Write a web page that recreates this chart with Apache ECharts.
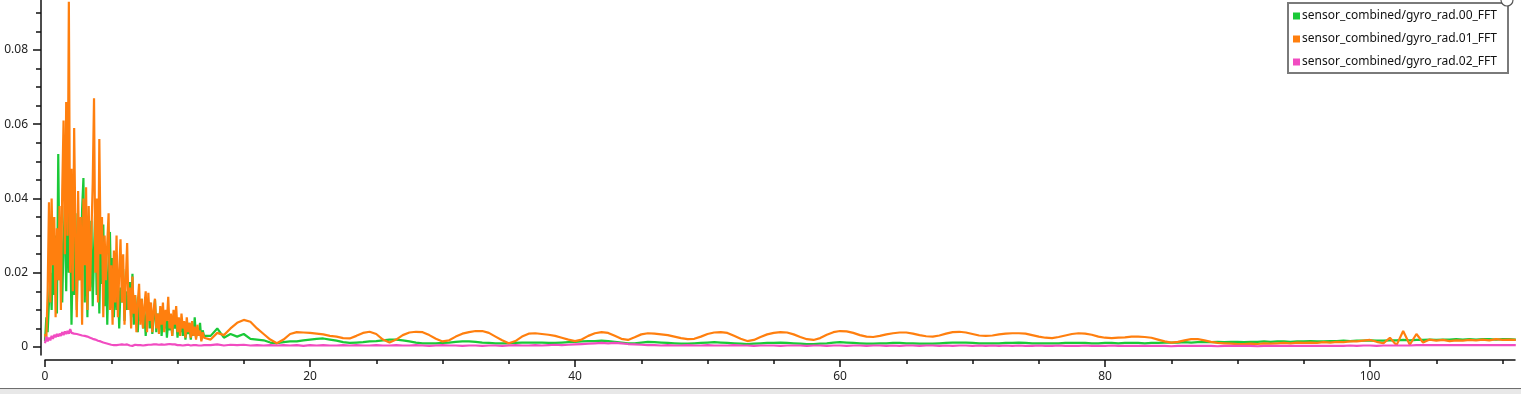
<!DOCTYPE html>
<html>
<head>
<meta charset="utf-8">
<script src="https://cdn.jsdelivr.net/npm/echarts@6/dist/echarts.min.js"></script>
<style>
html,body{margin:0;padding:0;background:#fff;}
#chart{width:1521px;height:394px;}
</style>
</head>
<body>
<div id="chart"></div>
<script>
// Series names (legend)
const seriesNames = [
  'sensor_combined/gyro_rad.00_FFT',
  'sensor_combined/gyro_rad.01_FFT',
  'sensor_combined/gyro_rad.02_FFT'
];
// Frequency bins: dense part 0..12 Hz step 0.1, sparse part 12.5..111 Hz step 0.5
const denseStart = 0, denseStep = 0.1;
const sparseStart = 12.5, sparseStep = 0.5;

// Values in units of 1e-3
const gyro00Dense = [
  1.5, 8, 4, 12, 20, 10, 24, 14, 30, 9,
  52, 18, 35, 12, 28, 38, 15, 40, 20, 33,
  6, 25, 14, 36, 10, 30, 18, 22, 37, 45.5,
  12, 32, 8, 28, 16, 34, 11, 26, 38, 14,
  30, 9, 27, 17, 33, 11, 24, 6, 22, 31,
  13, 24, 8, 20, 10, 18, 5, 16, 12, 21,
  7, 15, 10, 14, 17.5, 8, 19.7, 6, 14, 9,
  4, 11, 7, 13, 5, 10, 3, 9, 12, 5,
  10, 3.5, 8, 12.7, 4, 9, 6, 10, 3, 8,
  5, 9, 2.5, 7, 4.5, 8.5, 3, 7, 5, 8,
  2.5, 6, 4, 7.5, 3, 6, 2, 5.5, 3.5, 6.5,
  2, 5, 3, 8, 2.5, 5, 3, 6.5, 2, 4.5,
  3
];
const gyro01Dense = [
  3.5, 2, 15, 39, 12, 40, 22, 35, 8, 32,
  18, 38, 10, 42, 61, 25, 66, 30, 93, 20,
  48, 15, 59, 30, 8, 42, 18, 35, 6, 40,
  22, 43, 10, 38, 15, 30, 44, 67, 20, 40,
  12, 56, 25, 35, 8, 30, 18, 28, 36, 10,
  22, 6, 26, 12, 30, 8, 20, 29, 12, 25,
  6, 18, 28, 10, 16, 5, 19, 9, 14, 4,
  12, 17, 6, 13, 5, 11, 15, 4, 14.6, 7,
  12, 4, 10, 13, 5, 9, 3.5, 11, 6, 12,
  4, 10, 7, 13.5, 5, 9, 3, 10, 6, 11,
  4, 8, 3, 9, 5, 7, 2.5, 8, 4, 6.5,
  2.5, 7, 3, 5.5, 2, 6, 3, 4.5, 1.5, 4,
  2.5
];
const gyro02Dense = [
  1.0, 2.8, 1.5, 2.5, 1.8, 3.0, 2.2, 3.3, 2.6, 3.5,
  2.8, 3.6, 3.0, 4.0, 3.2, 4.2, 3.5, 4.3, 3.6, 4.8,
  3.8, 4.2, 3.6, 4.0, 3.5, 3.8, 3.3, 3.6, 3.1, 3.4,
  3.0, 3.1, 2.8, 2.9, 2.5, 2.6, 2.2, 2.3, 2.0, 2.0,
  1.7, 1.8, 1.5, 1.5, 1.2, 1.3, 1.0, 1.1, 0.8, 0.9,
  0.6, 0.8, 0.5, 0.7, 0.5, 0.6, 0.6, 0.4, 0.7, 0.5,
  0.6, 0.4, 0.7, 0.5, 0.4, 0.6, 0.3, 0.5, 0.6, 0.4,
  0.5, 0.7, 0.5, 0.6, 0.4, 0.6, 0.5, 0.7, 0.6, 0.8,
  0.6, 0.8, 0.7, 0.9, 0.7, 0.8, 0.6, 0.9, 0.7, 0.8,
  0.6, 0.8, 0.7, 0.6, 0.8, 0.6, 0.7, 0.5, 0.7, 0.6,
  0.5, 0.7, 0.5, 0.6, 0.4, 0.6, 0.5, 0.4, 0.6, 0.5,
  0.4, 0.6, 0.5, 0.4, 0.5, 0.6, 0.4, 0.5, 0.4, 0.6,
  0.5
];

const gyro00Sparse = [
  3.0, 5.0, 2.5, 3.5, 2.8, 3.5, 2.2, 2.0, 1.8, 1.2,
  1.0, 1.3, 1.5, 1.5, 1.8, 2.0, 2.2, 2.3, 2.0, 1.7,
  1.3, 1.1, 1.2, 1.3, 1.5, 1.6, 1.8, 2.0, 2.0, 1.8,
  1.5, 1.2, 1.0, 1.0, 1.0, 1.1, 1.2, 1.4, 1.5, 1.5,
  1.4, 1.2, 1.1, 1.0, 1.0, 1.0, 1.1, 1.2, 1.2, 1.2,
  1.2, 1.1, 1.1, 1.2, 1.3, 1.4, 1.5, 1.6, 1.6, 1.7,
  1.6, 1.4, 1.2, 1.0, 1.0, 1.2, 1.4, 1.3, 1.2, 1.1,
  1.0, 0.9, 0.9, 1.0, 1.1, 1.2, 1.3, 1.2, 1.1, 1.0,
  0.9, 0.8, 0.9, 1.0, 1.1, 1.1, 1.2, 1.1, 1.0, 0.9,
  0.8, 0.8, 0.9, 1.0, 1.2, 1.3, 1.2, 1.1, 1.0, 0.9,
  0.9, 1.0, 1.0, 1.1, 1.1, 1.0, 1.0, 0.9, 0.9, 0.9,
  1.0, 1.1, 1.2, 1.2, 1.2, 1.1, 1.0, 1.0, 1.0, 1.0,
  1.1, 1.1, 1.2, 1.1, 1.0, 1.0, 1.0, 1.0, 1.0, 1.1,
  1.1, 1.1, 1.1, 1.0, 1.0, 1.1, 1.1, 1.0, 1.1, 1.1,
  1.1, 1.0, 1.1, 1.1, 1.2, 1.2, 1.2, 1.3, 1.2, 1.3,
  1.3, 1.3, 1.4, 1.3, 1.4, 1.4, 1.3, 1.4, 1.4, 1.5,
  1.4, 1.5, 1.5, 1.4, 1.5, 1.5, 1.6, 1.5, 1.5, 1.6,
  1.6, 1.7, 1.6, 1.7, 1.7, 1.8, 1.7, 1.7, 1.8, 1.8,
  1.9, 1.8, 1.9, 1.9, 2.0, 1.9, 2.0, 2.0, 2.1, 2.0,
  2.1, 2.0, 2.1, 2.1, 2.0, 2.1, 2.1, 2.0
];
const gyro01Sparse = [
  2.0, 3.8, 3.2, 5.0, 6.5, 7.3, 6.8, 5.0, 3.5, 2.0,
  1.0, 2.0, 3.5, 4.0, 3.9, 3.8, 3.6, 3.4, 3.0, 2.8,
  2.4, 2.3, 3.0, 3.8, 4.1, 3.5, 2.0, 1.2, 2.0, 3.2,
  3.9, 4.1, 4.0, 3.2, 2.2, 1.5, 1.8, 2.8, 3.6, 4.0,
  4.3, 4.3, 3.8, 2.8, 1.8, 1.0, 1.6, 2.8, 3.6, 3.7,
  3.5, 3.3, 3.0, 2.5, 2.0, 1.6, 2.0, 3.0, 3.7, 4.0,
  3.8, 3.0, 2.2, 1.9, 2.6, 3.4, 3.7, 3.6, 3.4, 3.2,
  2.8, 2.4, 2.1, 2.2, 2.8, 3.5, 3.9, 4.0, 3.8, 3.0,
  2.2, 1.6, 1.9, 2.7, 3.4, 3.8, 4.0, 3.9, 3.4, 2.7,
  2.1, 1.9, 2.4, 3.3, 4.0, 4.3, 4.2, 3.8, 3.2, 2.8,
  2.7, 3.0, 3.4, 3.7, 3.9, 3.9, 3.6, 3.2, 2.9, 2.8,
  3.1, 3.6, 4.0, 4.1, 3.9, 3.5, 3.1, 3.0, 3.1, 3.4,
  3.6, 3.7, 3.7, 3.6, 3.2, 2.8, 2.5, 2.4, 2.7, 3.1,
  3.5, 3.7, 3.6, 3.3, 2.8, 2.5, 2.4, 2.5, 2.6, 2.8,
  2.8, 2.7, 2.5, 2.0, 1.5, 1.2, 1.4, 1.8, 2.1, 2.1,
  1.8, 1.4, 1.1, 1.0, 0.9, 0.8, 0.8, 0.9, 0.8, 1.0,
  0.9, 1.0, 1.1, 1.0, 1.2, 1.1, 1.2, 1.1, 1.3, 1.2,
  1.4, 1.3, 1.5, 1.5, 1.7, 1.9, 1.4, 1.0, 2.5, 0.5,
  4.3, 0.6, 3.5, 1.2, 2.0, 1.7, 1.9, 1.6, 1.8, 1.7,
  1.9, 1.8, 2.0, 1.8, 2.1, 1.9, 2.0, 1.9
];
const gyro02Sparse = [
  0.5, 0.7, 0.4, 0.6, 0.5, 0.6, 0.4, 0.5, 0.4, 0.5,
  0.4, 0.5, 0.4, 0.5, 0.3, 0.5, 0.4, 0.5, 0.4, 0.4,
  0.5, 0.4, 0.5, 0.4, 0.4, 0.5, 0.4, 0.4, 0.5, 0.4,
  0.4, 0.5, 0.4, 0.3, 0.4, 0.5, 0.4, 0.4, 0.3, 0.4,
  0.4, 0.3, 0.4, 0.4, 0.3, 0.4, 0.5, 0.4, 0.4, 0.5,
  0.4, 0.5, 0.6, 0.5, 0.6, 0.7, 0.8, 0.9, 1.0, 1.1,
  1.0, 1.1, 1.0, 0.8, 0.7, 0.6, 0.5, 0.5, 0.4, 0.5,
  0.4, 0.4, 0.5, 0.4, 0.4, 0.5, 0.4, 0.4, 0.4, 0.5,
  0.4, 0.4, 0.3, 0.4, 0.4, 0.4, 0.3, 0.4, 0.4, 0.4,
  0.3, 0.4, 0.4, 0.3, 0.4, 0.4, 0.3, 0.4, 0.4, 0.3,
  0.4, 0.4, 0.3, 0.4, 0.3, 0.4, 0.4, 0.3, 0.4, 0.4,
  0.3, 0.4, 0.3, 0.4, 0.4, 0.3, 0.4, 0.3, 0.4, 0.3,
  0.4, 0.3, 0.4, 0.3, 0.3, 0.4, 0.3, 0.3, 0.4, 0.3,
  0.3, 0.3, 0.4, 0.3, 0.3, 0.3, 0.4, 0.3, 0.3, 0.3,
  0.3, 0.3, 0.3, 0.3, 0.3, 0.2, 0.3, 0.3, 0.3, 0.3,
  0.3, 0.3, 0.2, 0.3, 0.3, 0.3, 0.3, 0.3, 0.2, 0.3,
  0.3, 0.3, 0.3, 0.3, 0.3, 0.3, 0.3, 0.3, 0.3, 0.3,
  0.3, 0.3, 0.4, 0.3, 0.4, 0.4, 0.3, 0.4, 0.4, 0.4,
  0.4, 0.4, 0.5, 0.5, 0.5, 0.5, 0.5, 0.5, 0.5, 0.5,
  0.5, 0.5, 0.5, 0.5, 0.5, 0.5, 0.5, 0.5
];

// Axis ticks
const xLabels = [0, 20, 40, 60, 80, 100];
const xMinorTicks = [5, 10, 15, 25, 30, 35, 45, 50, 55, 65, 70, 75, 85, 90, 95, 105, 110];
const yLabels = [0, 0.02, 0.04, 0.06, 0.08];
const yMinorTicks = [0.005, 0.01, 0.015, 0.025, 0.03, 0.035, 0.045, 0.05, 0.055, 0.065, 0.07, 0.075, 0.085, 0.09];

const colors = ['#1ac938', '#ff7f0e', '#f14cc1'];

function build(dense, sparse) {
  const pts = [];
  dense.forEach((v, i) => pts.push([+(denseStart + i * denseStep).toFixed(3), v / 1000]));
  sparse.forEach((v, i) => pts.push([sparseStart + i * sparseStep, v / 1000]));
  return pts;
}
const seriesData = [
  build(gyro00Dense, gyro00Sparse),
  build(gyro01Dense, gyro01Sparse),
  build(gyro02Dense, gyro02Sparse)
];

const FONT = 'Noto Sans';
const axisColor = '#111';
const xMin = 0, xMax = 110.94;
const yMin = -0.002155, yMax = 0.093468;

const chart = echarts.init(document.getElementById('chart'), null, {renderer: 'canvas'});
chart.setOption({
  animation: false,
  backgroundColor: '#fff',
  color: colors,
  grid: {left: 45, top: 0, width: 1470, height: 355, containLabel: false},
  legend: {
    orient: 'vertical',
    left: 1288, top: 3,
    padding: [5, 11, 3, 5],
    itemGap: 7,
    itemWidth: 7, itemHeight: 7,
    icon: 'rect',
    backgroundColor: '#fff',
    borderColor: '#7a7a7a',
    borderWidth: 2,
    borderRadius: 0,
    textStyle: {fontFamily: FONT, fontSize: 12, color: '#111', lineHeight: 16, padding: [0, 0, 0, -3]},
    data: seriesNames
  },
  xAxis: [{
    type: 'value', min: xMin, max: xMax, position: 'bottom', offset: 5,
    axisLine: {show: true, onZero: false, lineStyle: {color: axisColor, width: 1.5}},
    axisTick: {show: true, customValues: xLabels, length: 7, lineStyle: {color: axisColor, width: 1.5}},
    axisLabel: {customValues: xLabels, margin: 11, fontFamily: FONT, fontSize: 12, color: '#222'},
    splitLine: {show: false}
  }, {
    type: 'value', min: xMin, max: xMax, position: 'bottom', offset: 5,
    axisLine: {show: false, onZero: false},
    axisTick: {show: true, customValues: xMinorTicks, length: 4, lineStyle: {color: axisColor, width: 1.5}},
    axisLabel: {show: false},
    splitLine: {show: false}
  }],
  yAxis: [{
    type: 'value', min: yMin, max: yMax, position: 'left', offset: 4,
    axisLine: {show: true, onZero: false, lineStyle: {color: axisColor, width: 1.5}},
    axisTick: {show: true, customValues: yLabels, length: 8, lineStyle: {color: axisColor, width: 1.5}},
    axisLabel: {customValues: yLabels, margin: 13, fontFamily: FONT, fontSize: 12, color: '#222',
      formatter: v => (Math.abs(v) < 1e-9 ? '0' : String(+v.toFixed(3)))},
    splitLine: {show: false}
  }, {
    type: 'value', min: yMin, max: yMax, position: 'left', offset: 4,
    axisLine: {show: false, onZero: false},
    axisTick: {show: true, customValues: yMinorTicks, length: 5, lineStyle: {color: axisColor, width: 1.5}},
    axisLabel: {show: false},
    splitLine: {show: false}
  }],
  series: seriesNames.map((name, i) => ({
    name: name,
    type: 'line',
    xAxisIndex: 0, yAxisIndex: 0,
    data: seriesData[i],
    showSymbol: false,
    symbol: 'none',
    clip: true,
    lineStyle: {color: colors[i], width: 2.2},
    itemStyle: {color: colors[i]},
    emphasis: {disabled: true}
  })),
  graphic: [
    {type: 'circle', shape: {cx: 1507, cy: 0, r: 6}, style: {fill: '#fff', stroke: '#555', lineWidth: 1.2}, z: 100},
    {type: 'rect', shape: {x: 0, y: 388, width: 1521, height: 1.3}, style: {fill: '#6e6e6e'}, z: 100},
    {type: 'rect', shape: {x: 0, y: 389.3, width: 1521, height: 5}, style: {fill: '#e8e8e8'}, z: 100}
  ]
});
</script>
</body>
</html>
